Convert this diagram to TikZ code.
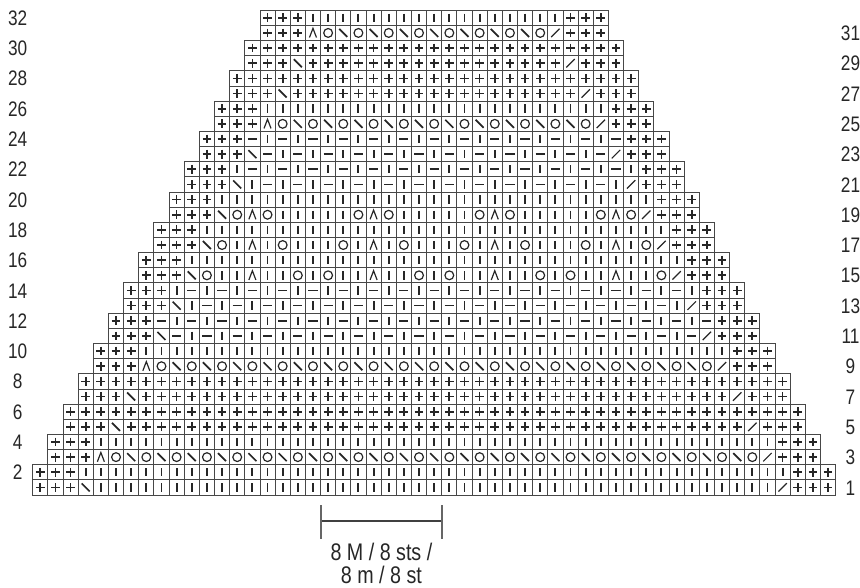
\documentclass[tikz,border=0pt]{standalone}
\usepackage{fontspec}
\setmainfont{Liberation Sans}[FakeStretch=0.82]
\newcount\symcode
\newcount\tmpa
\newcount\tmpb
% #1 = row, #2 = column, #3 = row pair index, #4 = row type
\newcommand\calcsym[4]{%
  \symcode=0
  \ifnum#2<\numexpr#3+4\relax \symcode=1 \fi
  \ifnum#2>\numexpr50-#3\relax \symcode=1 \fi
  \ifnum\symcode=0
    \ifodd#1\relax
      \ifnum#2=\numexpr#3+4\relax
        \ifnum#4=2 \symcode=7 \else \symcode=4 \fi
      \fi
      \ifnum#2=\numexpr50-#3\relax \symcode=5 \fi
    \fi
  \fi
  \ifnum\symcode=0
    \ifcase#4\relax
    \or \symcode=2
    \or \tmpa=\numexpr#2-#3-5\relax
        \ifodd\tmpa \symcode=4 \else \symcode=6 \fi
    \or \symcode=1
    \or \tmpa=\numexpr#1+#2\relax
        \ifodd\tmpa \symcode=3 \else \symcode=2 \fi
    \or \tmpa=\numexpr#2-7\relax
        \tmpb=\tmpa \divide\tmpb by 8 \multiply\tmpb by 8
        \advance\tmpa by -\tmpb
        \tmpb=\numexpr(21-#1)/2\relax
        \symcode=2
        \ifnum\tmpa=0 \symcode=7 \fi
        \ifnum\tmpa=\tmpb \symcode=6 \fi
        \ifnum\tmpa=\numexpr8-\tmpb\relax \symcode=6 \fi
    \fi
  \fi
}
\tikzset{
  gridline/.style={draw=black!72, line width=0.9pt},
  symthick/.style={draw=black!85, line width=1.7pt},
  symbar/.style={draw=black!85, line width=1.9pt},
  symthin/.style={draw=black!85, line width=1.2pt},
  rowlabel/.style={text=black!85, font=\fontsize{21}{21}\selectfont, anchor=base, inner sep=0pt},
  scaletext/.style={text=black!85, font=\fontsize{24}{24}\selectfont, anchor=base, inner sep=0pt},
  scaleline/.style={draw=black!75, line width=1.2pt},
  scaletick/.style={draw=black!60, line width=1.5pt}
}
\newcommand\symPlus{\draw[symthick] (-4.4,0) -- (4.4,0) (0,-4.4) -- (0,4.4);}
\newcommand\symKnit{\draw[symbar] (0,-4.2) -- (0,4.2);}
\newcommand\symPurl{\draw[symthick] (-4.6,0) -- (4.6,0);}
\newcommand\symLeft{\draw[symthick] (-4,-4) -- (4,4);}
\newcommand\symRight{\draw[symthin] (-4.2,4.2) -- (4.2,-4.2);}
\newcommand\symYo{\draw[symthin] (0,0) circle (4.4pt);}
\newcommand\symDec{\draw[symthin] (-3.5,4.6) -- (0,-4.6) -- (3.5,4.6);}
\begin{document}
\begin{tikzpicture}[x=1pt,y=-1pt]
\useasboundingbox (0,0) rectangle (860,587);
\foreach \rw/\rt in {1/1,2/1,3/2,4/1,5/3,6/3,7/3,8/3,9/2,10/1,11/4,12/4,13/4,14/4,15/5,16/1,17/5,18/1,19/5,20/1,21/4,22/4,23/4,24/4,25/2,26/1,27/3,28/3,29/3,30/3,31/2,32/1}{
  \pgfmathtruncatemacro\rp{int((\rw-1)/2)}
  \pgfmathtruncatemacro\colS{\rp+1}
  \pgfmathtruncatemacro\colE{53-\rp}
  \foreach \cl in {\colS,...,\colE}{
    \calcsym{\rw}{\cl}{\rp}{\rt}
    \pgfmathsetmacro\cx{32.7+(\cl-0.5)*15.15}
    \pgfmathsetmacro\cy{495-(\rw-0.5)*15.15}
    \draw[gridline] ({\cx-7.575},{\cy-7.575}) rectangle ({\cx+7.575},{\cy+7.575});
    \begin{scope}[shift={(\cx,\cy)}]
      \ifcase\symcode \or \symPlus \or \symKnit \or \symPurl \or \symLeft \or \symRight \or \symYo \or \symDec \fi
    \end{scope}
  }
}
% row numbers
\foreach \rw in {2,4,...,32}{
  \pgfmathsetmacro\cy{495-(\rw-0.5)*15.15+7.6}
  \node[rowlabel] (L\rw) at (17.6,\cy) {\rw};
}
\foreach \rw in {1,3,...,31}{
  \pgfmathsetmacro\cy{495-(\rw-0.5)*15.15+7.6}
  \node[rowlabel] (R\rw) at (850.5,\cy) {\rw};
}
% scale bar
\coordinate (sbL) at (321,521);
\coordinate (sbR) at (441.8,521);
\draw[scaleline] (sbL) -- (sbR);
\draw[scaletick] (sbL) ++(0,-16) -- ++(0,34);
\draw[scaletick] (sbR) ++(0,-16) -- ++(0,34);
\node[scaletext] (st1) at (381.4,560.5) {8 M / 8 sts /};
\node[scaletext] (st2) at (381.4,583.5) {8 m / 8 st};
\end{tikzpicture}
\end{document}
